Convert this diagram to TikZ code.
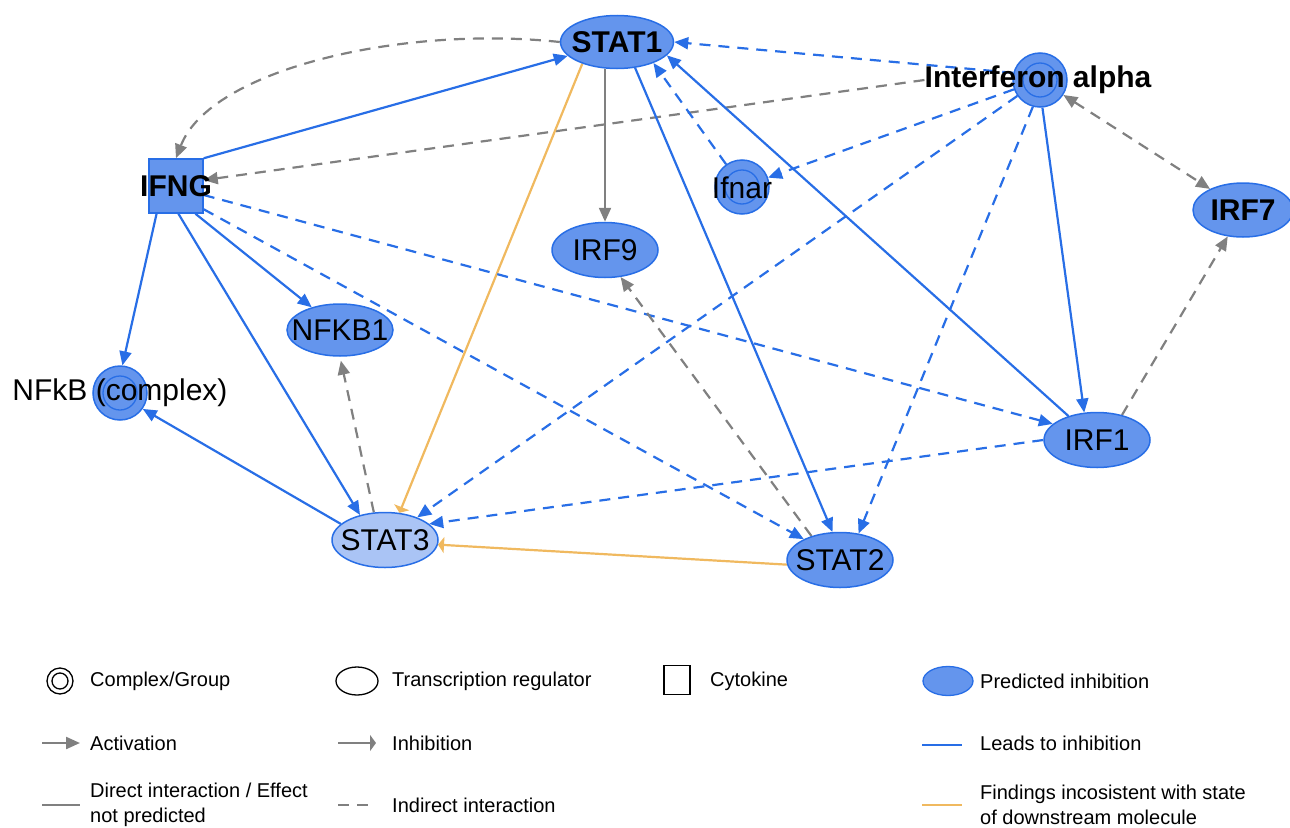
\documentclass[tikz,border=0pt]{standalone}
\usepackage{fontspec}
\setmainfont{Liberation Sans}
\usetikzlibrary{shapes.geometric,arrows.meta,backgrounds}
\definecolor{nodefill}{RGB}{100,149,237}
\definecolor{nodeline}{RGB}{40,110,230}
\definecolor{lightfill}{RGB}{170,196,245}
\definecolor{edgegray}{RGB}{128,128,128}
\definecolor{edgeorange}{RGB}{240,185,95}
\newcommand{\gname}[1]{\makebox[0pt]{#1}}

\begin{document}
\begin{tikzpicture}[x=1pt, y=-1pt,
    big/.style={font=\fontsize{30}{34}\selectfont},
    bigb/.style={font=\fontsize{30}{34}\selectfont\bfseries},
    gene/.style={ellipse, draw=nodeline, fill=nodefill, line width=1.5pt,
      minimum width=106pt, minimum height=55pt, inner sep=0pt},
    cplx/.style={circle, draw=nodeline, fill=nodefill, line width=1.5pt,
      minimum size=54pt, inner sep=0pt,
      path picture={\draw[nodeline, line width=1.3pt] (path picture bounding box.center) circle (17pt);}},
    cyto/.style={rectangle, draw=nodeline, fill=nodefill, line width=1.5pt,
      minimum size=54pt, inner sep=0pt},
    lbl/.style={inner sep=0pt},
    lgtext/.style={anchor=west, inner sep=0pt, align=left,
      font=\fontsize{20}{25}\selectfont},
    act/.style={-{Triangle[length=14pt, width=12pt]}},
    inh/.style={-{Triangle[length=6pt, width=16pt]}},
    blu/.style={draw=nodeline, line width=2.2pt},
    gry/.style={draw=edgegray, line width=2.2pt},
    org/.style={draw=edgeorange, line width=2.2pt},
    indirect/.style={dash pattern=on 11pt off 8pt}]
  \useasboundingbox (0,0) rectangle (1290,827);

  \node[gene, bigb, minimum width=113pt, minimum height=53pt] (stat1) at (617,42) {\gname{STAT1}};
  \node[cplx] (ifna) at (1040,80) {};
  \node[lbl, bigb] (ifnalbl) at (1038,80) {Interferon alpha};
  \node[gene, bigb, minimum width=100pt, minimum height=54pt] (irf7) at (1243,210) {\gname{IRF7}};
  \node[cyto] (ifng) at (176,186) {};
  \node[lbl, bigb] (ifnglbl) at (176,186) {IFNG};
  \node[cplx] (ifnar) at (742,187) {};
  \node[lbl, big] (ifnarlbl) at (742,188) {Ifnar};
  \node[gene, big] (irf9) at (605,250) {\gname{IRF9}};
  \node[gene, big, minimum height=52pt] (nfkb1) at (340,330) {\gname{NFKB1}};
  \node[cplx] (nfkb) at (120,393) {};
  \node[lbl, big] (nfkblbl) at (120,393) {NFkB (complex)};
  \node[gene, big, fill=lightfill] (stat3) at (385,540) {\gname{STAT3}};
  \node[gene, big] (stat2) at (840,560) {\gname{STAT2}};
  \node[gene, big] (irf1) at (1097,440) {\gname{IRF1}};

  \begin{scope}[on background layer]
    \draw[gry, indirect, act] (stat1.west) .. controls (400,25) and (210,70) .. (ifng.north);
    \draw[gry, indirect, act] (ifnalbl.west) -- (ifng.12);
    \draw[blu, act] (ifng.north east) -- (stat1);
    \draw[blu, indirect, act] (ifna.165) -- (stat1.east);
    \draw[blu, indirect, act] (ifnar.125) -- (stat1.-30);
    \draw[blu, act] (irf1.140) -- (stat1.-15);
    \draw[blu, indirect, act] (ifna) -- (ifnar);
    \draw[blu, indirect, act] (ifna) -- (stat3);
    \draw[blu, indirect, act] (ifna.255) -- (stat2.55);
    \draw[blu, act] (ifna.-85) -- (irf1.115);
    \draw[gry, indirect, {Triangle[length=14pt, width=12pt]}-{Triangle[length=14pt, width=12pt]}] (ifna) -- (irf7);
    \draw[gry, indirect, act] (irf1.45) -- (irf7.-120);
    \draw[gry, act] (stat1.south -| irf9.north) -- (irf9.north);
    \draw[org, inh] (stat1.-148) -- (stat3.62);
    \draw[org, inh] (stat2.185) -- (stat3.-5);
    \draw[blu, act] (ifng.-125) -- (nfkb.85);
    \draw[blu, act] (ifng.-85) -- (stat3.135);
    \draw[blu, act] (ifng.-55) -- (nfkb1);
    \draw[blu, indirect, act] (ifng.-40) -- (stat2.150);
    \draw[blu, indirect, act] (ifng.-18) -- (irf1.160);
    \draw[blu, act] (stat3.160) -- (nfkb.-35);
    \draw[gry, indirect, act, shorten >=4pt] (stat3.112) -- (nfkb1.south);
    \draw[blu, indirect, act] (irf1.west) -- (stat3.20);
    \draw[gry, indirect, act] (stat2.140) -- (irf9.-60);
    \draw[blu, act] (stat1.-55) -- (stat2.105);
  \end{scope}

  \node[circle, draw, line width=1.3pt, minimum size=26pt, inner sep=0pt,
    path picture={\draw[line width=1.3pt] (path picture bounding box.center) circle (8pt);}] (lgcplx) at (60,681) {};
  \node[lgtext] (tcplx) at (90,681) {Complex/Group};
  \node[ellipse, draw, line width=1.3pt, minimum width=42pt, minimum height=28pt] (lgtr) at (357,681) {};
  \node[lgtext] (ttr) at (392,681) {Transcription regulator};
  \node[rectangle, draw, line width=1.3pt, minimum width=26pt, minimum height=29pt] (lgcyto) at (677,680) {};
  \node[lgtext] (tcyto) at (710,681) {Cytokine};
  \node[ellipse, draw=nodeline, fill=nodefill, line width=1.3pt, minimum width=50pt, minimum height=29pt] (lgpred) at (948,681) {};
  \node[lgtext] (tpred) at (980,681) {Predicted inhibition};

  \draw[gry, act] (42,743) -- (80,743);
  \node[lgtext] (tact) at (90,743) {Activation};
  \draw[gry, inh] (338,743) -- (376,743);
  \node[lgtext] (tinh) at (392,743) {Inhibition};
  \draw[blu] (922,745) -- (962,745);
  \node[lgtext] (tlead) at (980,743) {Leads to inhibition};

  \draw[gry] (42,805) -- (80,805);
  \node[lgtext] (tdir) at (90,805) {Direct interaction / Effect\\not predicted};
  \draw[gry, indirect] (338,805) -- (376,805);
  \node[lgtext] (tind) at (392,805) {Indirect interaction};
  \draw[org] (922,805) -- (962,805);
  \node[lgtext] (tfind) at (980,805) {Findings incosistent with state\\of downstream molecule};
\end{tikzpicture}
\end{document}
